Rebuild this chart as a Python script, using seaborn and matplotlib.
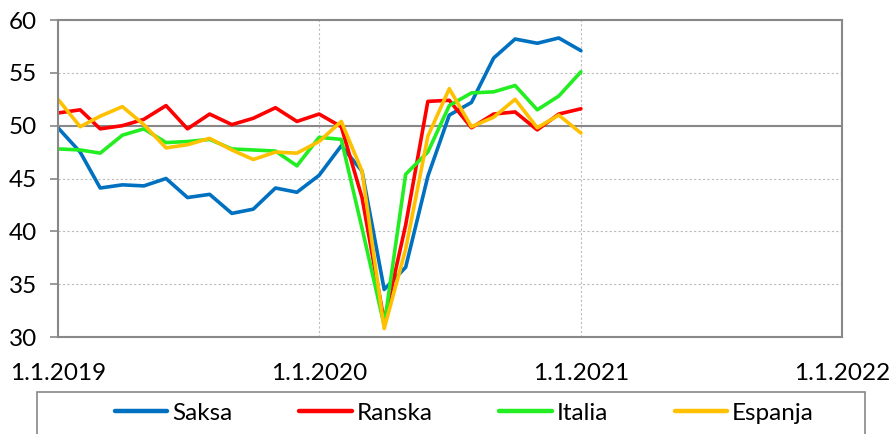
import pandas as pd
import numpy as np
import matplotlib
matplotlib.use('Agg')
import matplotlib.pyplot as plt
from matplotlib.patches import Rectangle
import seaborn as sns

# ---------------------- Data (PMI, monthly 1/2019 - 1/2021) ----------------------
months = pd.date_range('2019-01-01', '2021-01-01', freq='MS')

saksa = [49.8, 47.5, 44.1, 44.4, 44.3, 45.0, 43.2, 43.5, 41.7, 42.1, 44.1, 43.7,
         45.3, 48.1, 45.7, 34.5, 36.6, 45.2, 51.0, 52.2, 56.4, 58.2, 57.8, 58.3, 57.1]
ranska = [51.2, 51.5, 49.7, 50.0, 50.6, 51.9, 49.7, 51.1, 50.1, 50.7, 51.7, 50.4,
          51.1, 49.9, 43.2, 31.5, 40.6, 52.3, 52.4, 49.8, 51.1, 51.3, 49.6, 51.1, 51.6]
italia = [47.8, 47.7, 47.4, 49.1, 49.7, 48.4, 48.5, 48.7, 47.8, 47.7, 47.6, 46.2,
          48.9, 48.7, 40.3, 31.1, 45.4, 47.5, 51.9, 53.1, 53.2, 53.8, 51.5, 52.8, 55.1]
espanja = [52.5, 49.9, 50.9, 51.8, 50.1, 47.9, 48.2, 48.8, 47.7, 46.8, 47.5, 47.4,
           48.5, 50.4, 45.7, 30.8, 38.3, 49.0, 53.5, 49.9, 50.8, 52.5, 49.8, 51.0, 49.3]

series_names = ['Saksa', 'Ranska', 'Italia', 'Espanja']
colors = ['#0070C0', '#FF0000', '#22EE22', '#FFC000']
year_ticks = pd.to_datetime(['2019-01-01', '2020-01-01', '2021-01-01', '2022-01-01'])
y_ticks = [30, 35, 40, 45, 50, 55, 60]

df = pd.DataFrame({'Kuukausi': months, 'Saksa': saksa, 'Ranska': ranska,
                   'Italia': italia, 'Espanja': espanja})
long_df = df.melt(id_vars='Kuukausi', var_name='Maa', value_name='PMI')

# ---------------------- Plot ----------------------
sns.set_style('white')
plt.rcParams['font.family'] = ['Lato', 'DejaVu Sans']
plt.rcParams['text.color'] = 'black'

fig = plt.figure(figsize=(8.95, 4.34), dpi=100)
ax = fig.add_axes([0.0648, 0.2235, 0.8760, 0.7304])

sns.lineplot(data=long_df, x='Kuukausi', y='PMI', hue='Maa', hue_order=series_names,
             palette=colors, linewidth=2.6, ax=ax, legend=False)

ax.set_xlim(year_ticks[0], year_ticks[-1])
ax.set_ylim(30, 60)
ax.set_xticks(year_ticks)
ax.set_xticklabels([f'{d.day}.{d.month}.{d.year}' for d in year_ticks], fontsize=17.5)
ax.set_yticks(y_ticks)
ax.set_yticklabels([str(v) for v in y_ticks], fontsize=17.5)
ax.set_xlabel('')
ax.set_ylabel('')

ax.grid(True, color='#BBBBBB', linestyle=(0, (2, 2)), linewidth=0.8)
ax.axhline(50, color='#888888', linewidth=1.5, zorder=1)
for sp in ax.spines.values():
    sp.set_color('#888888')
    sp.set_linewidth(1.5)
ax.tick_params(axis='y', which='major', left=True, length=6, width=1.2,
               color='#888888', labelcolor='black', pad=9)
ax.tick_params(axis='x', which='major', bottom=False, labelcolor='black', pad=15)

# legend box (cut by the lower edge of the image like in the original)
fig.patches.append(Rectangle((37 / 895, -0.2), 828 / 895, 0.2 + 1 - 392 / 434,
                             transform=fig.transFigure, fill=False,
                             edgecolor='#888888', linewidth=1.2))
handles = [plt.Line2D([], [], color=c, linewidth=3.2) for c in colors]
fig.legend(handles, series_names, loc='center left', ncol=4,
           bbox_to_anchor=(103 / 895, 1 - 413 / 434),
           fontsize=17.5, frameon=False, handlelength=2.15,
           handletextpad=0.2, borderpad=0, columnspacing=2.75)

fig.savefig('out.png', dpi=100)
